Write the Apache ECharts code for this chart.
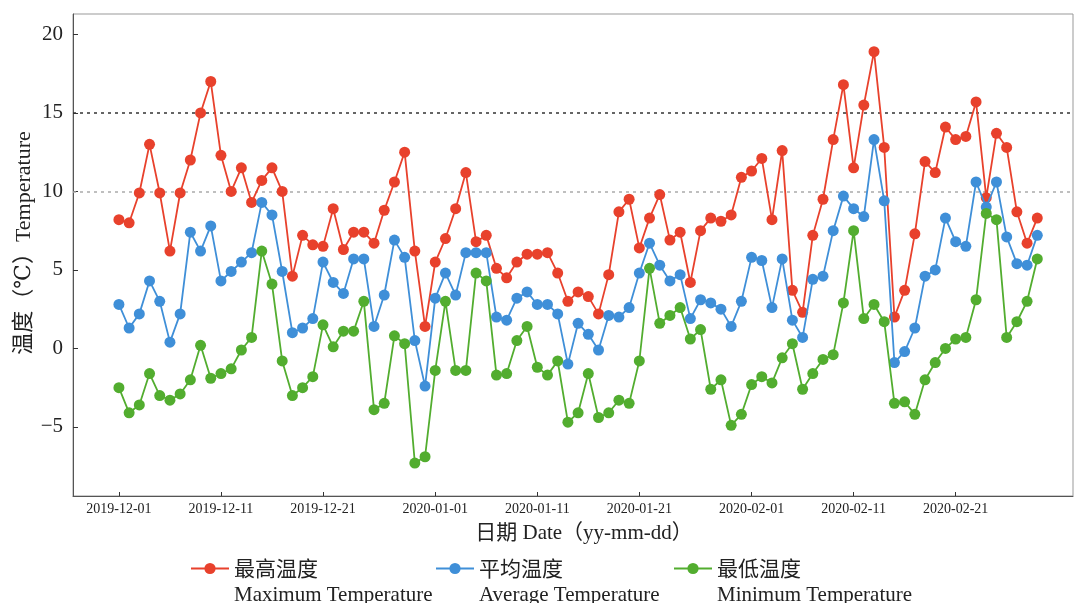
<!DOCTYPE html>
<html>
<head>
<meta charset="utf-8">
<title>温度 Temperature</title>
<script src="https://cdn.jsdelivr.net/npm/echarts@6/dist/echarts.min.js"></script>
<style>
  html, body { margin: 0; padding: 0; background: #fff; }
  #chart { width: 1074px; height: 603px; }
</style>
</head>
<body>
<div id="chart"></div>
<script>
// day index from 2019-12-01 (0) to 2020-02-29 (90)
const tickDays = [0, 10, 20, 31, 41, 51, 62, 72, 82];
const tickLabels = ['2019-12-01', '2019-12-11', '2019-12-21', '2020-01-01', '2020-01-11',
    '2020-01-21', '2020-02-01', '2020-02-11', '2020-02-21'];

const maxTemp = [8.2, 8.0, 9.9, 13.0, 9.9, 6.2, 9.9, 12.0, 15.0, 17.0,
    12.3, 10.0, 11.5, 9.3, 10.7, 11.5, 10.0, 4.6, 7.2, 6.6,
    6.5, 8.9, 6.3, 7.4, 7.4, 6.7, 8.8, 10.6, 12.5, 6.2,
    1.4, 5.5, 7.0, 8.9, 11.2, 6.8, 7.2, 5.1, 4.5, 5.5,
    6.0, 6.0, 6.1, 4.8, 3.0, 3.6, 3.3, 2.2, 4.7, 8.7,
    9.5, 6.4, 8.3, 9.8, 6.9, 7.4, 4.2, 7.5, 8.3, 8.1,
    8.5, 10.9, 11.3, 12.1, 8.2, 12.6, 3.7, 2.3, 7.2, 9.5,
    13.3, 16.8, 11.5, 15.5, 18.9, 12.8, 2.0, 3.7, 7.3, 11.9,
    11.2, 14.1, 13.3, 13.5, 15.7, 9.6, 13.7, 12.8, 8.7, 6.7,
    8.3];

const avgTemp = [2.8, 1.3, 2.2, 4.3, 3.0, 0.4, 2.2, 7.4, 6.2, 7.8,
    4.3, 4.9, 5.5, 6.1, 9.3, 8.5, 4.9, 1.0, 1.3, 1.9,
    5.5, 4.2, 3.5, 5.7, 5.7, 1.4, 3.4, 6.9, 5.8, 0.5,
    -2.4, 3.2, 4.8, 3.4, 6.1, 6.1, 6.1, 2.0, 1.8, 3.2,
    3.6, 2.8, 2.8, 2.2, -1.0, 1.6, 0.9, -0.1, 2.1, 2.0,
    2.6, 4.8, 6.7, 5.3, 4.3, 4.7, 1.9, 3.1, 2.9, 2.5,
    1.4, 3.0, 5.8, 5.6, 2.6, 5.7, 1.8, 0.7, 4.4, 4.6,
    7.5, 9.7, 8.9, 8.4, 13.3, 9.4, -0.9, -0.2, 1.3, 4.6,
    5.0, 8.3, 6.8, 6.5, 10.6, 9.0, 10.6, 7.1, 5.4, 5.3,
    7.2];

const minTemp = [-2.5, -4.1, -3.6, -1.6, -3.0, -3.3, -2.9, -2.0, 0.2, -1.9,
    -1.6, -1.3, -0.1, 0.7, 6.2, 4.1, -0.8, -3.0, -2.5, -1.8,
    1.5, 0.1, 1.1, 1.1, 3.0, -3.9, -3.5, 0.8, 0.3, -7.3,
    -6.9, -1.4, 3.0, -1.4, -1.4, 4.8, 4.3, -1.7, -1.6, 0.5,
    1.4, -1.2, -1.7, -0.8, -4.7, -4.1, -1.6, -4.4, -4.1, -3.3,
    -3.5, -0.8, 5.1, 1.6, 2.1, 2.6, 0.6, 1.2, -2.6, -2.0,
    -4.9, -4.2, -2.3, -1.8, -2.2, -0.6, 0.3, -2.6, -1.6, -0.7,
    -0.4, 2.9, 7.5, 1.9, 2.8, 1.7, -3.5, -3.4, -4.2, -2.0,
    -0.9, 0.0, 0.6, 0.7, 3.1, 8.6, 8.2, 0.7, 1.7, 3.0,
    5.7];

const seriesNames = ['最高温度', '平均温度', '最低温度'];
const seriesEnglish = ['Maximum Temperature', 'Average Temperature', 'Minimum Temperature'];
const seriesColors = ['#e8412c', '#3f8fd8', '#52ad2f'];
const refLines = [15, 10];

const SERIF = '"Liberation Serif", "DejaVu Serif", serif';
const CJK = '"Noto Sans CJK SC", sans-serif';

const ec = echarts.init(document.getElementById('chart'), null, { renderer: 'canvas' });

const allData = [maxTemp, avgTemp, minTemp];
const legendLeft = [185, 430, 668];

let option = {
    animation: false,
    backgroundColor: '#fff',
    grid: {
        left: 73, right: 1, top: 14, bottom: 107,
        containLabel: false,
        outerBoundsMode: 'none',
        show: true, borderColor: '#999', borderWidth: 1
    },
    legend: seriesNames.map((name, i) => ({
        data: [name],
        left: legendLeft[i],
        top: 553,
        itemWidth: 38,
        itemHeight: 14,
        itemGap: 0,
        formatter: (n) => '{a|' + n + '}\n{b|' + seriesEnglish[i] + '}',
        textStyle: {
            padding: [27, 0, 0, 0],
            rich: {
                a: { fontFamily: CJK, fontSize: 21, lineHeight: 27, color: '#222' },
                b: { fontFamily: SERIF, fontSize: 21, lineHeight: 27, color: '#222' }
            }
        }
    })),
    xAxis: {
        type: 'value',
        min: -4.5,
        max: 93.5,
        name: '日期 Date（yy-mm-dd）',
        nameLocation: 'middle',
        nameGap: 27,
        nameMoveOverlap: false,
        nameTextStyle: { fontFamily: SERIF + ', ' + CJK, fontSize: 21, color: '#222', padding: [0, 0, 0, 22] },
        splitLine: { show: false },
        axisLine: { onZero: false, lineStyle: { color: '#555', width: 1 } },
        axisTick: { inside: true, length: 4, customValues: tickDays, lineStyle: { color: '#333' } },
        axisLabel: {
            customValues: tickDays,
            margin: 6,
            fontFamily: SERIF,
            fontSize: 14,
            color: '#222',
            formatter: (v) => tickLabels[tickDays.indexOf(v)] || ''
        }
    },
    yAxis: {
        type: 'value',
        min: -9.4,
        max: 21.3,
        name: '温度（℃）Temperature',
        nameLocation: 'middle',
        nameRotate: 90,
        nameGap: 38,
        nameMoveOverlap: false,
        nameTextStyle: { fontFamily: SERIF + ', ' + CJK, fontSize: 22, color: '#222', padding: [0, 0, 0, 24] },
        splitLine: { show: false },
        axisLine: { show: true, onZero: false, lineStyle: { color: '#555', width: 1 } },
        axisTick: { inside: true, length: 5, customValues: [-5, 0, 5, 10, 15, 20], lineStyle: { color: '#333' } },
        axisLabel: {
            customValues: [-5, 0, 5, 10, 15, 20],
            margin: 10,
            fontFamily: SERIF,
            fontSize: 21,
            color: '#222',
            formatter: (v) => (v < 0 ? '\u2212' + Math.abs(v) : String(v))
        }
    },
    series: seriesNames.map((name, i) => ({
        name: name,
        type: 'line',
        data: allData[i].map((v, d) => [d, v]),
        symbol: 'circle',
        symbolSize: 11,
        color: seriesColors[i],
        lineStyle: { width: 1.8, color: seriesColors[i] },
        itemStyle: { color: seriesColors[i] },
        z: 2 + i
    }))
};

// dotted reference lines at 15 and 10
option.series[0].markLine = {
    silent: true,
    symbol: 'none',
    label: { show: false },
    data: [
        { yAxis: refLines[0], lineStyle: { color: '#333', type: [3, 4], width: 1.5 } },
        { yAxis: refLines[1], lineStyle: { color: '#aaa', type: [3, 4], width: 1.5 } }
    ],
    z: 1
};

ec.setOption(option);
</script>
</body>
</html>
